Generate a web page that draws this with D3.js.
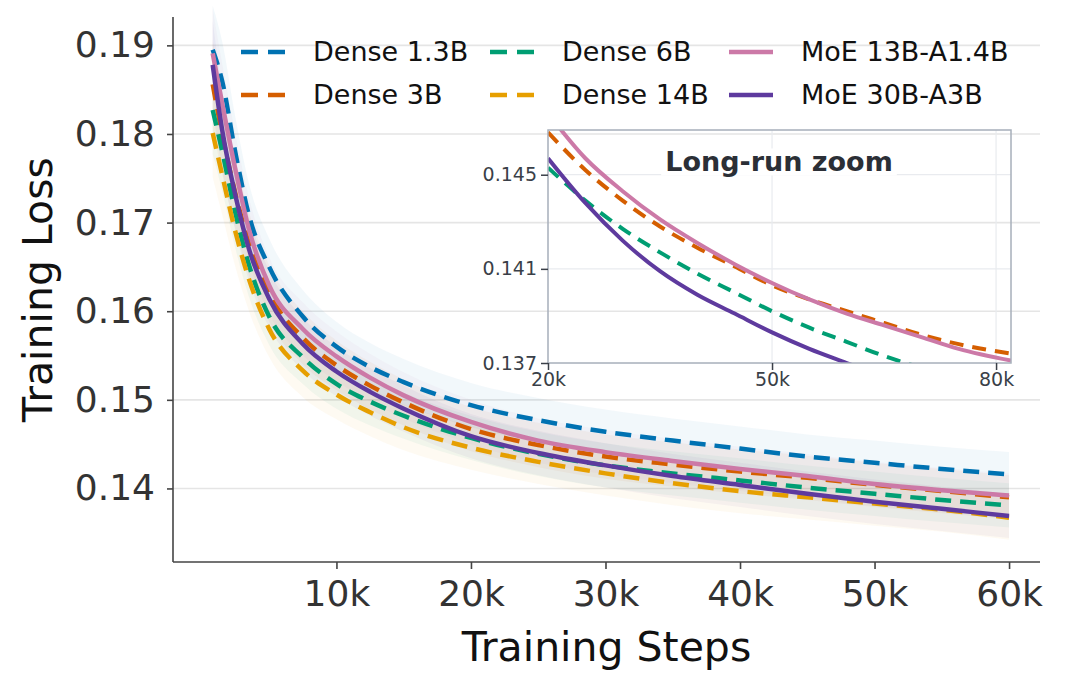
<!DOCTYPE html>
<html>
<head>
<meta charset="utf-8">
<script src="https://cdn.jsdelivr.net/npm/d3@7"></script>
<style>
body { margin: 0; background: #fff; }
text { font-family: "DejaVu Sans", sans-serif; }
</style>
</head>
<body>
<div id="chart"></div>
<script>
// main run
const steps = [800, 1500, 2500, 3500, 5000, 7500, 10000, 12500, 15000, 20000, 25000, 30000, 35000, 40000, 45000, 50000, 55000, 60000];
const dense13 = [0.1895, 0.1860, 0.1778, 0.1708, 0.1650, 0.1594, 0.1560, 0.1537, 0.1520, 0.1494, 0.1477, 0.1464, 0.1454, 0.1445, 0.1436, 0.1429, 0.1422, 0.1416];
const dense3 = [0.1856, 0.1800, 0.1732, 0.1676, 0.1620, 0.1570, 0.1539, 0.1516, 0.1497, 0.1467, 0.1449, 0.1436, 0.1427, 0.1419, 0.1412, 0.1404, 0.1397, 0.1390];
const dense6 = [0.1827, 0.1781, 0.1710, 0.1652, 0.1594, 0.1548, 0.1518, 0.1498, 0.1482, 0.1457, 0.1439, 0.1426, 0.1417, 0.1409, 0.1401, 0.1394, 0.1387, 0.1381];
const dense14 = [0.1801, 0.1754, 0.1689, 0.1636, 0.1580, 0.1533, 0.1506, 0.1486, 0.1469, 0.1446, 0.1430, 0.1417, 0.1406, 0.1397, 0.1390, 0.1383, 0.1376, 0.1367];
const moe13 = [0.1891, 0.1835, 0.1759, 0.1692, 0.1629, 0.1580, 0.1549, 0.1525, 0.1505, 0.1475, 0.1454, 0.1441, 0.1431, 0.1422, 0.1414, 0.1405, 0.1398, 0.1392];
const moe30 = [0.1878, 0.1805, 0.1730, 0.1670, 0.1614, 0.1563, 0.1532, 0.1509, 0.1490, 0.1459, 0.1440, 0.1426, 0.1414, 0.1404, 0.1394, 0.1385, 0.1377, 0.1369];
// half width of the raw (noisy) band around each curve
const noiseHalf = [0.0050, 0.0045, 0.0040, 0.0036, 0.0032, 0.0030, 0.0028, 0.0027, 0.0026, 0.0025, 0.0025, 0.0025, 0.0025, 0.0025, 0.0025, 0.0025, 0.0025, 0.0025];

// long run shown in the inset
const zoomSteps = [20000, 25000, 30000, 35000, 40000, 45000, 50000, 55000, 60000, 65000, 70000, 75000, 82000];
const zoomDense3 = [0.1468, 0.1452, 0.1439, 0.1428, 0.1419, 0.1411, 0.1403, 0.1397, 0.1392, 0.1387, 0.1382, 0.1378, 0.1374];
const zoomDense6 = [0.1453, 0.1439, 0.1427, 0.1417, 0.1408, 0.1400, 0.1392, 0.1385, 0.1379, 0.1373, 0.1368, 0.1364, 0.1358];
const zoomMoe13 = [0.1476, 0.1457, 0.1443, 0.1431, 0.1421, 0.1412, 0.1404, 0.1397, 0.1391, 0.1386, 0.1381, 0.1376, 0.1371];
const zoomMoe30 = [0.1457, 0.1438, 0.1422, 0.1409, 0.1399, 0.1391, 0.1383, 0.1376, 0.1370, 0.1364, 0.1359, 0.1355, 0.1350];

const yTicks = [0.14, 0.15, 0.16, 0.17, 0.18, 0.19];
const xTicks = [10000, 20000, 30000, 40000, 50000, 60000];
const zoomYTicks = [0.137, 0.141, 0.145];
const zoomXTicks = [20000, 50000, 80000];

const series = [
    { name: "Dense 1.3B", values: dense13, color: "#0072B2", dashed: true },
    { name: "Dense 3B", values: dense3, color: "#D55E00", dashed: true },
    { name: "Dense 6B", values: dense6, color: "#009E73", dashed: true },
    { name: "Dense 14B", values: dense14, color: "#E69F00", dashed: true },
    { name: "MoE 13B-A1.4B", values: moe13, color: "#CC79A7", dashed: false },
    { name: "MoE 30B-A3B", values: moe30, color: "#5E3A9E", dashed: false }
];
const zoomSeries = [
    { values: zoomDense3, color: "#D55E00", dashed: true },
    { values: zoomDense6, color: "#009E73", dashed: true },
    { values: zoomMoe13, color: "#CC79A7", dashed: false },
    { values: zoomMoe30, color: "#5E3A9E", dashed: false }
];

const width = 1065;
const height = 687;
const margin = { top: 17, left: 173, bottom: 125, right: 25 };

const svg = d3.select("#chart").append("svg")
    .attr("width", width)
    .attr("height", height);

const x = d3.scaleLinear()
    .domain([-2150, 62300])
    .range([margin.left, width - margin.right]);
const y = d3.scaleLinear()
    .domain([0.1317, 0.1932])
    .range([height - margin.bottom, margin.top]);

// grid
svg.append("g")
    .selectAll("line").data(yTicks).enter().append("line")
    .attr("x1", margin.left)
    .attr("x2", width - margin.right)
    .attr("y1", d => y(d))
    .attr("y2", d => y(d))
    .style("stroke", "#e5e5e5")
    .style("stroke-width", 1.6);

const line = d3.line()
    .x(d => x(d[0]))
    .y(d => y(d[1]))
    .curve(d3.curveMonotoneX);

const band = d3.area()
    .x((d, i) => x(steps[i]))
    .y0((d, i) => y(d - noiseHalf[i]))
    .y1((d, i) => y(d + noiseHalf[i]))
    .curve(d3.curveMonotoneX);

svg.append("g")
    .selectAll("path").data(series).enter().append("path")
    .attr("d", s => band(s.values))
    .style("fill", s => s.color)
    .style("opacity", 0.05);

svg.append("g")
    .selectAll("path").data(series).enter().append("path")
    .attr("d", s => line(s.values.map((v, i) => [steps[i], v])))
    .style("fill", "none")
    .style("stroke", s => s.color)
    .style("stroke-width", 4.5)
    .style("stroke-dasharray", s => s.dashed ? "16,9" : null);

// axes
const yAxis = svg.append("g")
    .attr("transform", `translate(${margin.left},0)`)
    .call(d3.axisLeft(y).tickValues(yTicks).tickFormat(d3.format(".2f")).tickSize(6).tickPadding(12));
const xAxis = svg.append("g")
    .attr("transform", `translate(0,${height - margin.bottom})`)
    .call(d3.axisBottom(x).tickValues(xTicks).tickFormat(d => d / 1000 + "k").tickSize(7).tickPadding(11));

[yAxis, xAxis].forEach(a => {
    a.select(".domain").style("stroke", "#444").style("stroke-width", 1.6);
    a.selectAll(".tick line").style("stroke", "#444").style("stroke-width", 1.6);
    a.selectAll(".tick text")
        .style("font-family", "DejaVu Sans")
        .style("font-size", "36px")
        .style("fill", "#333");
});
// only left and bottom spines, cut at the plot box
yAxis.select(".domain").attr("d", `M0,${margin.top}V${height - margin.bottom}`);
xAxis.select(".domain").attr("d", `M${margin.left},0H${width - margin.right}`);

svg.append("text")
    .attr("x", (margin.left + width - margin.right) / 2)
    .attr("y", 661)
    .attr("text-anchor", "middle")
    .style("font-size", "41px")
    .style("fill", "#111")
    .text("Training Steps");

svg.append("text")
    .attr("transform", `translate(52,${(margin.top + height - margin.bottom) / 2}) rotate(-90)`)
    .attr("text-anchor", "middle")
    .style("font-size", "41px")
    .style("fill", "#111")
    .text("Training Loss");

// legend, filled column by column
const legendCols = [241, 490, 729];
const legendRows = [52, 95];
const legend = svg.append("g")
    .selectAll("g").data(series).enter().append("g")
    .attr("transform", (s, i) => `translate(${legendCols[Math.floor(i / 2)]},${legendRows[i % 2]})`);
legend.append("line")
    .attr("x1", 0).attr("x2", 44)
    .style("stroke", s => s.color)
    .style("stroke-width", 4.5)
    .style("stroke-dasharray", s => s.dashed ? "17,10" : null);
legend.append("text")
    .attr("x", 72)
    .attr("dy", "0.35em")
    .style("font-size", "27px")
    .style("fill", "#111")
    .text(s => s.name);

// inset
const inset = { left: 548, right: 1011, top: 130, bottom: 363 };
const zx = d3.scaleLinear().domain([20000, 82000]).range([inset.left, inset.right]);
const zy = d3.scaleLinear().domain([0.137, 0.1469]).range([inset.bottom, inset.top]);

svg.append("clipPath").attr("id", "inset-clip")
    .append("rect")
    .attr("x", inset.left).attr("y", inset.top)
    .attr("width", inset.right - inset.left)
    .attr("height", inset.bottom - inset.top);

const ig = svg.append("g");
ig.append("g").selectAll("line").data(zoomYTicks.slice(1)).enter().append("line")
    .attr("x1", inset.left).attr("x2", inset.right)
    .attr("y1", d => zy(d)).attr("y2", d => zy(d))
    .style("stroke", "#e9ebef").style("stroke-width", 1.2);
ig.append("g").selectAll("line").data(zoomXTicks.slice(1)).enter().append("line")
    .attr("x1", d => zx(d)).attr("x2", d => zx(d))
    .attr("y1", inset.top).attr("y2", inset.bottom)
    .style("stroke", "#e9ebef").style("stroke-width", 1.2);

// title sits behind the curves on a white box
const titleBox = ig.append("rect").style("fill", "#fff");
const title = ig.append("text")
    .attr("x", 779)
    .attr("y", 162)
    .attr("dy", "0.35em")
    .attr("text-anchor", "middle")
    .style("font-size", "27px")
    .style("font-weight", "bold")
    .style("fill", "#2b2f36")
    .text("Long-run zoom");
const tb = title.node().getBBox();
titleBox
    .attr("x", tb.x - 4).attr("y", tb.y + 2)
    .attr("width", tb.width + 8).attr("height", tb.height - 4);

const zline = d3.line()
    .x(d => zx(d[0]))
    .y(d => zy(d[1]))
    .curve(d3.curveMonotoneX);

ig.append("g").attr("clip-path", "url(#inset-clip)")
    .selectAll("path").data(zoomSeries).enter().append("path")
    .attr("d", s => zline(s.values.map((v, i) => [zoomSteps[i], v])))
    .style("fill", "none")
    .style("stroke", s => s.color)
    .style("stroke-width", 4)
    .style("stroke-dasharray", s => s.dashed ? "14,9" : null);

ig.append("rect")
    .attr("x", inset.left).attr("y", inset.top)
    .attr("width", inset.right - inset.left)
    .attr("height", inset.bottom - inset.top)
    .style("fill", "none")
    .style("stroke", "#a7afba")
    .style("stroke-width", 1.5);

const zyAxis = ig.append("g")
    .attr("transform", `translate(${inset.left},0)`)
    .call(d3.axisLeft(zy).tickValues(zoomYTicks).tickFormat(d3.format(".3f")).tickSize(7).tickPadding(4));
const zxAxis = ig.append("g")
    .attr("transform", `translate(0,${inset.bottom})`)
    .call(d3.axisBottom(zx).tickValues(zoomXTicks).tickFormat(d => d / 1000 + "k").tickSize(7).tickPadding(3));
[zyAxis, zxAxis].forEach(a => {
    a.select(".domain").remove();
    a.selectAll(".tick line").style("stroke", "#3a3f48").style("stroke-width", 1.5);
    a.selectAll(".tick text")
        .style("font-family", "DejaVu Sans")
        .style("font-size", "19px")
        .style("fill", "#3a3f48");
});
</script>
</body>
</html>
